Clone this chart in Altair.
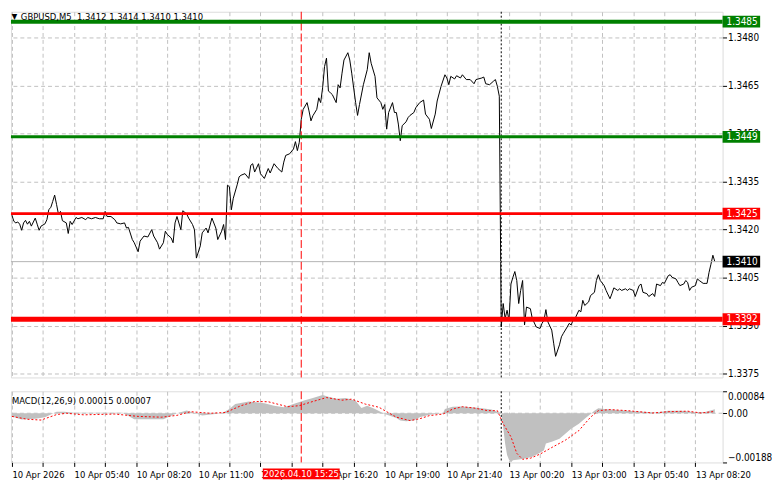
import altair as alt
import pandas as pd

# ---------------- data ----------------
price_bar = [0, 1, 2, 3, 4, 5, 6, 7, 8, 9, 10, 12, 13, 14, 15, 17, 18, 19, 20, 21, 22, 23, 24, 25, 26, 28, 29, 30, 31,
             33, 34, 36, 38, 39, 41, 43, 45, 47, 48, 49, 51, 53, 54, 56, 58, 59, 60, 62, 63, 65, 66, 68, 70, 72, 73,
             75, 76, 78, 79, 80, 82, 83, 84, 85, 87, 88, 90, 91, 93, 94, 95, 97, 98, 100, 101, 103, 105, 106, 108,
             109, 110, 111, 112, 113, 114, 116, 117, 118, 120, 122, 123, 124, 125, 127, 128, 130, 132, 133, 135,
             137, 139, 140, 141, 143, 145, 146, 147, 148, 149, 150, 152, 153, 154, 155, 157, 158, 159, 160, 161,
             162, 163, 164, 165, 167, 168, 169, 170, 171, 173, 174, 175, 177, 178, 179, 181, 183, 184, 185, 187,
             188, 190, 191, 192, 193, 194, 196, 197, 198, 199, 200, 201, 203, 204, 205, 207, 208, 210, 212, 213,
             215, 216, 218, 219, 221, 223, 224, 225, 226, 228, 229, 231, 232, 234, 236, 238, 239, 242, 243, 244,
             246, 248, 249, 250, 251, 252, 253, 254, 255, 256, 257, 258, 259, 260, 261, 262, 263, 264, 265, 267,
             268, 270, 272, 273, 274, 275, 276, 278, 279, 280, 282, 283, 284, 286, 287, 288, 289, 290, 292, 293,
             294, 295, 297, 298, 300, 301, 302, 303, 305, 306, 308, 309, 310, 312, 313, 314, 316, 317, 318, 320,
             321, 323, 324, 325, 327, 328, 330, 331, 332, 334, 335, 336, 338, 339, 340, 342, 343, 344, 346, 347,
             348, 349, 350, 352, 353, 354, 356, 357, 358, 359, 360, 361, 362]
price_close = [1.34245, 1.34226, 1.34221, 1.34224, 1.34217, 1.34198, 1.34221, 1.34229, 1.34217, 1.34226, 1.34211,
               1.34236, 1.34217, 1.34198, 1.34211, 1.34218, 1.34231, 1.34263, 1.34269, 1.34288, 1.34308, 1.34278,
               1.34247, 1.34257, 1.34228, 1.34221, 1.34188, 1.34226, 1.34216, 1.34238, 1.34234, 1.34238, 1.34231,
               1.34238, 1.34234, 1.34238, 1.34234, 1.34234, 1.34257, 1.34241, 1.34241, 1.34231, 1.34221, 1.34218,
               1.34221, 1.34205, 1.34207, 1.34169, 1.34159, 1.34131, 1.34164, 1.34180, 1.34177, 1.34200, 1.34180,
               1.34159, 1.34139, 1.34159, 1.34195, 1.34185, 1.34174, 1.34159, 1.34221, 1.34241, 1.34200, 1.34259,
               1.34249, 1.34236, 1.34216, 1.34200, 1.34111, 1.34149, 1.34190, 1.34205, 1.34190, 1.34236, 1.34205,
               1.34169, 1.34195, 1.34216, 1.34169, 1.34339, 1.34334, 1.34262, 1.34298, 1.34340, 1.34365, 1.34370,
               1.34375, 1.34360, 1.34401, 1.34406, 1.34380, 1.34406, 1.34375, 1.34360, 1.34391, 1.34377, 1.34406,
               1.34391, 1.34380, 1.34411, 1.34432, 1.34437, 1.34452, 1.34475, 1.34447, 1.34473, 1.34545, 1.34576,
               1.34597, 1.34571, 1.34540, 1.34556, 1.34576, 1.34612, 1.34597, 1.34643, 1.34710, 1.34736, 1.34633,
               1.34628, 1.34622, 1.34597, 1.34653, 1.34643, 1.34689, 1.34730, 1.34753, 1.34730, 1.34689, 1.34597,
               1.34557, 1.34591, 1.34653, 1.34700, 1.34753, 1.34720, 1.34679, 1.34612, 1.34597, 1.34576, 1.34591,
               1.34514, 1.34566, 1.34597, 1.34566, 1.34566, 1.34530, 1.34478, 1.34525, 1.34537, 1.34550, 1.34557,
               1.34566, 1.34581, 1.34597, 1.34605, 1.34561, 1.34545, 1.34516, 1.34561, 1.34602, 1.34648, 1.34684,
               1.34674, 1.34653, 1.34679, 1.34671, 1.34681, 1.34674, 1.34684, 1.34669, 1.34669, 1.34656, 1.34669,
               1.34674, 1.34677, 1.34656, 1.34653, 1.34664, 1.34669, 1.34648, 1.34617, 1.33896, 1.33969, 1.33922,
               1.33948, 1.33917, 1.34030, 1.34051, 1.34069, 1.34041, 1.33969, 1.34010, 1.34041, 1.33902, 1.33958,
               1.33953, 1.33922, 1.33896, 1.33891, 1.33907, 1.33917, 1.33950, 1.33912, 1.33886, 1.33845, 1.33804,
               1.33840, 1.33865, 1.33876, 1.33896, 1.33907, 1.33902, 1.33917, 1.33922, 1.33948, 1.33943, 1.33979,
               1.33963, 1.33974, 1.33994, 1.34004, 1.34041, 1.34059, 1.34041, 1.34025, 1.34010, 1.33984, 1.34000,
               1.34018, 1.34010, 1.34015, 1.34010, 1.34015, 1.34010, 1.34015, 1.34010, 1.33991, 1.34025, 1.34030,
               1.34004, 1.34000, 1.33991, 1.34000, 1.33991, 1.34030, 1.34025, 1.34035, 1.34032, 1.34056, 1.34059,
               1.34051, 1.34046, 1.34035, 1.34025, 1.34030, 1.34041, 1.34035, 1.34010, 1.34020, 1.34025, 1.34046,
               1.34041, 1.34032, 1.34032, 1.34032, 1.34066, 1.34092, 1.34120, 1.34100]

macd_bar = [0, 5, 12, 17, 23, 27, 32, 57, 63, 78, 85, 90, 98, 108, 112, 115, 122, 130, 135, 140, 145, 150, 155, 160,
            163, 167, 172, 177, 180, 183, 187, 192, 195, 198, 200, 203, 207, 210, 215, 222, 223, 227, 232, 237, 242,
            247, 250, 252, 253, 254, 255, 256, 257, 258, 262, 265, 268, 272, 274, 275, 278, 282, 285, 288, 292, 295,
            298, 300, 302, 305, 310, 317, 325, 332, 338, 345, 352, 357, 362]
macd_main = [-0.00012, -0.00024, -0.00021, -0.00015, 0.00006, 0.00006, 0.00002, 0.00002, -0.00023, -0.00023, 0.0,
             0.00011, -0.00009, 0.0, 0.00016, 0.00035, 0.00045, 0.00038, 0.00029, 0.00023, 0.00035, 0.00048, 0.00058,
             0.00070, 0.00063, 0.00055, 0.00058, 0.00048, 0.00020, 0.00029, 0.00016, -0.00003, -0.00010, -0.00018,
             -0.00028, -0.00031, -0.00028, -0.00015, -0.00006, 0.0, 0.00016, 0.00025, 0.00026, 0.00023, 0.00019,
             0.00014, 0.00006, 0.0, -0.00053, -0.00116, -0.00160, -0.00178, -0.00188, -0.00180, -0.00176, -0.00172,
             -0.00166, -0.00151, -0.00141, -0.00116, -0.00109, -0.00097, -0.00078, -0.00059, -0.00040, -0.00021,
             -0.00003, 0.00010, 0.00019, 0.00016, 0.00013, 0.00010, 0.00006, 0.00003, 0.00010, 0.00010, 0.00004,
             0.00005, 0.00015]

signal_bar = [0, 8, 15, 23, 28, 37, 53, 65, 77, 85, 92, 102, 110, 118, 125, 132, 142, 148, 155, 162, 170, 175, 182,
              189, 193, 198, 205, 210, 215, 222, 227, 232, 238, 245, 250, 253, 257, 260, 263, 267, 272, 278, 285,
              292, 298, 302, 308, 317, 330, 338, 348, 355, 362]
signal_value = [-0.00012, -0.00023, -0.00026, -0.00005, 0.0, -0.00006, -0.00003, -0.00012, -0.00015, -0.00008,
                0.00006, 0.0, 0.00003, 0.00029, 0.00045, 0.00044, 0.00025, 0.00029, 0.00045, 0.00060, 0.00050,
                0.00054, 0.00035, 0.00023, 0.00006, -0.00015, -0.00028, -0.00021, -0.00009, -0.00003, 0.00016,
                0.00025, 0.00020, 0.00010, 0.00010, -0.00040, -0.00090, -0.00153, -0.00176, -0.00172, -0.00156,
                -0.00131, -0.00103, -0.00066, -0.00015, 0.00010, 0.00014, 0.00010, 0.00001, 0.00006, 0.00008,
                0.00001, 0.00007]

level_values = [1.3485, 1.3449, 1.3425, 1.3392]
level_colors = ["#008000", "#008000", "#ff0000", "#ff0000"]
level_widths = [4, 3, 3, 5]
bid_price = 1.3410

price_ticks = [1.3375, 1.3390, 1.3405, 1.3420, 1.3435, 1.3450, 1.3465, 1.3480]
macd_ticks = [-0.00188, 0.0, 0.00084]

time_tick_bar = [0, 32, 64, 96, 128, 160, 192, 224, 256, 288, 320, 352]
time_tick_label = ["10 Apr 2026", "10 Apr 05:40", "10 Apr 08:20", "10 Apr 11:00", "10 Apr 13:40",
                   "10 Apr 16:20", "10 Apr 19:00", "10 Apr 21:40", "13 Apr 00:20", "13 Apr 03:00",
                   "13 Apr 05:40", "13 Apr 08:20"]
grid_bar = list(range(0, 366, 16))

crosshair_bar = 149
crosshair_label = "2026.04.10 15:25"
separator_bar = 252

header_symbol = "\u25bc"
header_text = "GBPUSD,M5 \u00a01.3412 1.3414 1.3410 1.3410"
macd_text = "MACD(12,26,9) 0.00015 0.00007"

# ---------------- layout ----------------
W = 720
H_MAIN = 370
H_MACD = 72
X_DOMAIN = [-0.5, 366]
Y_DOMAIN = [1.33738, 1.34881]
M_DOMAIN = [-0.00188, 0.00084]
FONT = "Tahoma, 'DejaVu Sans Condensed', 'Liberation Sans', Arial, sans-serif"
GRID = "#c0c0c0"
TAG_HALF = 0.000185          # half height of a price tag, in price units
DATE_TAG_HALF = 19.8         # half width of the date tag, in bars

xscale = alt.Scale(domain=X_DOMAIN, nice=False, zero=False)
yscale = alt.Scale(domain=Y_DOMAIN, nice=False, zero=False)
mscale = alt.Scale(domain=M_DOMAIN, nice=False, zero=False)

label_expr = "''"
for b, lab in reversed(list(zip(time_tick_bar, time_tick_label))):
    label_expr = f"datum.value == {b} ? '{lab}' : ({label_expr})"

main_x_axis = alt.Axis(title=None, labels=False, ticks=False, domain=False, grid=True,
                       values=grid_bar, gridColor=GRID, gridDash=[4, 3])
macd_x_axis = alt.Axis(title=None, labels=True, ticks=True, domain=False, grid=True,
                       values=grid_bar, gridColor=GRID, gridDash=[4, 3], labelExpr=label_expr,
                       labelAlign="left", labelBaseline="top", labelPadding=3, tickSize=4,
                       tickColor="black", labelColor="black", labelFontSize=9.5, labelFont=FONT,
                       labelFlush=False, labelOverlap=False, labelBound=False)
main_y_axis = alt.Axis(title=None, orient="right", values=price_ticks, format=".4f", grid=True,
                       gridColor=GRID, gridDash=[4, 3], domain=False, tickSize=4, tickColor="black",
                       labelPadding=1, labelColor="black", labelFontSize=10, labelFont=FONT,
                       labelOverlap=False, labelFlush=False)
macd_y_axis = alt.Axis(title=None, orient="right", values=macd_ticks, grid=False, domain=False,
                       tickSize=4, tickColor="black", labelPadding=1, labelColor="black",
                       labelFontSize=10, labelFont=FONT, labelFlush=True, labelOverlap=False,
                       labelExpr="datum.value == 0 ? '0.00' : format(datum.value, '.5f')")


def Xm(field=None, datum=None):
    if datum is not None:
        return alt.X(datum=datum, type="quantitative", scale=xscale, axis=main_x_axis)
    return alt.X(field=field, type="quantitative", scale=xscale, axis=main_x_axis)


def Xb(field=None, datum=None):
    if datum is not None:
        return alt.X(datum=datum, type="quantitative", scale=xscale, axis=macd_x_axis)
    return alt.X(field=field, type="quantitative", scale=xscale, axis=macd_x_axis)


def Ym(field=None, datum=None):
    if datum is not None:
        return alt.Y(datum=datum, type="quantitative", scale=yscale, axis=main_y_axis)
    return alt.Y(field=field, type="quantitative", scale=yscale, axis=main_y_axis)


def Yb(field=None, datum=None):
    if datum is not None:
        return alt.Y(datum=datum, type="quantitative", scale=mscale, axis=macd_y_axis)
    return alt.Y(field=field, type="quantitative", scale=mscale, axis=macd_y_axis)


price_df = pd.DataFrame({"i": price_bar, "p": price_close})
macd_df = pd.DataFrame({"i": macd_bar, "v": macd_main})
signal_df = pd.DataFrame({"i": signal_bar, "v": signal_value})
levels_df = pd.DataFrame({"level": level_values, "color": level_colors, "width": level_widths})

tag_levels = level_values + [bid_price]
tag_fills = level_colors + ["#000000"]
tags_df = pd.DataFrame({
    "level": tag_levels,
    "label": [f"{v:.4f}" for v in tag_levels],
    "fill": tag_fills,
    "top": [v + TAG_HALF for v in tag_levels],
    "bot": [v - TAG_HALF for v in tag_levels],
})

# ---------------- main panel ----------------
price_line = alt.Chart(price_df).mark_line(color="black", strokeWidth=1).encode(x=Xm("i"), y=Ym("p"))
bid_line = alt.Chart().mark_rule(color="#b4b4b4", strokeWidth=1).encode(y=Ym(datum=bid_price))
cross_main = alt.Chart().mark_rule(color="#ff0000", strokeWidth=1, strokeDash=[8, 3]).encode(
    x=Xm(datum=crosshair_bar))
sep_main = alt.Chart().mark_rule(color="black", strokeWidth=1, strokeDash=[2, 2]).encode(
    x=Xm(datum=separator_bar))
level_lines = alt.Chart(levels_df).mark_rule().encode(
    y=Ym("level"),
    color=alt.Color("color:N", scale=None),
    strokeWidth=alt.StrokeWidth("width:Q", scale=None),
)
tag_boxes = alt.Chart(tags_df).mark_rect().encode(
    x=alt.value(W), x2=alt.value(W + 38),
    y=Ym("top"), y2=alt.Y2("bot"),
    color=alt.Color("fill:N", scale=None),
)
tag_texts = alt.Chart(tags_df).mark_text(align="left", baseline="middle", color="white",
                                         fontSize=10, font=FONT).encode(
    x=alt.value(W + 4), y=Ym("level"), text="label:N")
head_sym = alt.Chart().mark_text(align="center", baseline="alphabetic", color="black",
                                 fontSize=8, font=FONT).encode(
    x=alt.value(3.5), y=alt.value(7), text=alt.value(header_symbol))
head_txt = alt.Chart().mark_text(align="left", baseline="alphabetic", color="black",
                                 fontSize=9.5, font=FONT).encode(
    x=alt.value(10), y=alt.value(8), text=alt.value(header_text))

main = alt.layer(price_line, bid_line, cross_main, sep_main, level_lines, tag_boxes, tag_texts,
                 head_sym, head_txt).properties(width=W, height=H_MAIN)

# ---------------- MACD panel ----------------
zero_line = alt.Chart().mark_rule(color=GRID, strokeDash=[4, 3]).encode(y=Yb(datum=0))
hist = alt.Chart(macd_df).mark_area(color="#c0c0c0", opacity=1).encode(
    x=Xb("i"), y=Yb("v"), y2=alt.Y2(datum=0))
signal = alt.Chart(signal_df).mark_line(color="#ff0000", strokeWidth=1, strokeDash=[2, 2]).encode(
    x=Xb("i"), y=Yb("v"))
cross_macd = alt.Chart().mark_rule(color="#ff0000", strokeWidth=1, strokeDash=[8, 3]).encode(
    x=Xb(datum=crosshair_bar))
sep_macd = alt.Chart().mark_rule(color="black", strokeWidth=1, strokeDash=[2, 2]).encode(
    x=Xb(datum=separator_bar))
macd_head = alt.Chart().mark_text(align="left", baseline="alphabetic", color="black",
                                  fontSize=9.5, font=FONT).encode(
    x=alt.value(1), y=alt.value(12.5), text=alt.value(macd_text))
date_box = alt.Chart().mark_rect(color="#ff0000").encode(
    x=Xb(datum=crosshair_bar - DATE_TAG_HALF), x2=alt.X2(datum=crosshair_bar + DATE_TAG_HALF),
    y=alt.value(H_MACD + 6), y2=alt.value(H_MACD + 17))
date_txt = alt.Chart().mark_text(align="center", baseline="middle", color="white",
                                 fontSize=9.5, font=FONT).encode(
    x=Xb(datum=crosshair_bar), y=alt.value(H_MACD + 11.5), text=alt.value(crosshair_label))

macd = alt.layer(zero_line, hist, signal, cross_macd, sep_macd, macd_head, date_box,
                 date_txt).properties(width=W, height=H_MACD)

chart = alt.vconcat(main, macd, spacing=11, padding=0, background="white").configure_view(
    stroke="black", strokeWidth=1
).configure(font=FONT)

chart.save("out.html", embed_options={"renderer": "svg", "actions": False})
